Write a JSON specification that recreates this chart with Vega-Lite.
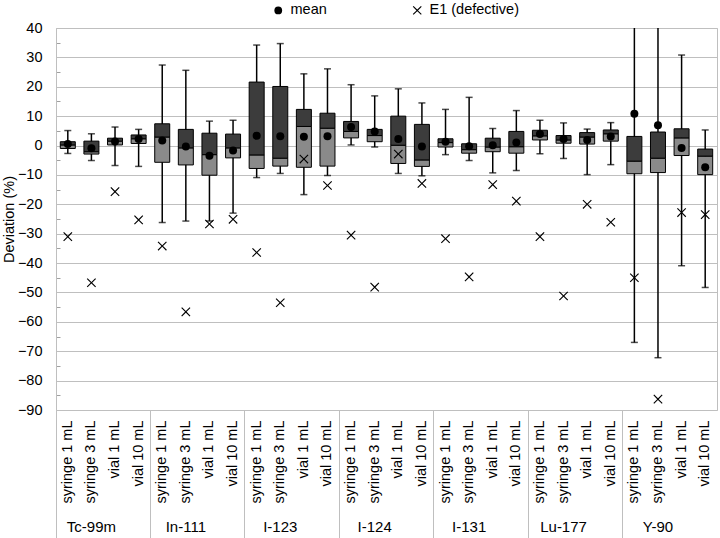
{
  "$schema": "https://vega.github.io/schema/vega-lite/v6.json",
  "width": 661,
  "height": 382,
  "autosize": "none",
  "padding": {"left": 56, "top": 28, "right": 3, "bottom": 128},
  "background": "white",
  "data": {"values": [
    {"key": "Tc-99m|syringe 1 mL", "min": -2.7, "q1": -1.0, "med": 0.2, "q3": 1.3, "max": 5.1, "mean": 0.5, "e1": -31.0},
    {"key": "Tc-99m|syringe 3 mL", "min": -5.1, "q1": -2.9, "med": -2.1, "q3": 1.5, "max": 4.0, "mean": -0.9, "e1": -46.7},
    {"key": "Tc-99m|vial 1 mL", "min": -6.8, "q1": 0.2, "med": 1.5, "q3": 2.5, "max": 6.3, "mean": 1.4, "e1": -15.7},
    {"key": "Tc-99m|vial 10 mL", "min": -7.1, "q1": 0.7, "med": 2.3, "q3": 3.6, "max": 5.5, "mean": 2.2, "e1": -25.3},
    {"key": "In-111|syringe 1 mL", "min": -26.2, "q1": -5.7, "med": 2.9, "q3": 7.4, "max": 27.4, "mean": 1.7, "e1": -34.2},
    {"key": "In-111|syringe 3 mL", "min": -25.7, "q1": -6.6, "med": -0.8, "q3": 5.5, "max": 25.6, "mean": -0.3, "e1": -56.6},
    {"key": "In-111|vial 1 mL", "min": -25.7, "q1": -10.1, "med": -3.1, "q3": 4.2, "max": 8.3, "mean": -3.5, "e1": -26.7},
    {"key": "In-111|vial 10 mL", "min": -23.0, "q1": -4.2, "med": -0.8, "q3": 3.9, "max": 8.6, "mean": -1.7, "e1": -25.1},
    {"key": "I-123|syringe 1 mL", "min": -10.9, "q1": -7.8, "med": -3.2, "q3": 21.6, "max": 34.2, "mean": 3.3, "e1": -36.4},
    {"key": "I-123|syringe 3 mL", "min": -9.5, "q1": -7.0, "med": -4.3, "q3": 20.1, "max": 34.7, "mean": 3.2, "e1": -53.5},
    {"key": "I-123|vial 1 mL", "min": -16.7, "q1": -7.4, "med": 6.5, "q3": 12.3, "max": 24.4, "mean": 3.0, "e1": -4.6},
    {"key": "I-123|vial 10 mL", "min": -10.2, "q1": -7.0, "med": 5.9, "q3": 11.0, "max": 26.1, "mean": 3.2, "e1": -13.6},
    {"key": "I-124|syringe 1 mL", "min": 0.2, "q1": 2.6, "med": 4.8, "q3": 8.2, "max": 20.7, "mean": 6.3, "e1": -30.5},
    {"key": "I-124|syringe 3 mL", "min": -0.5, "q1": 1.3, "med": 3.4, "q3": 5.5, "max": 16.9, "mean": 4.8, "e1": -48.2},
    {"key": "I-124|vial 1 mL", "min": -9.5, "q1": -6.1, "med": 0.1, "q3": 10.0, "max": 19.3, "mean": 2.2, "e1": -2.9},
    {"key": "I-124|vial 10 mL", "min": -10.3, "q1": -7.1, "med": -4.9, "q3": 7.2, "max": 14.5, "mean": -0.3, "e1": -12.9},
    {"key": "I-131|syringe 1 mL", "min": -3.1, "q1": -0.5, "med": 1.0, "q3": 2.3, "max": 12.3, "mean": 1.3, "e1": -31.7},
    {"key": "I-131|syringe 3 mL", "min": -5.1, "q1": -2.6, "med": -1.4, "q3": 0.6, "max": 16.4, "mean": -0.2, "e1": -44.7},
    {"key": "I-131|vial 1 mL", "min": -9.3, "q1": -2.1, "med": -0.5, "q3": 2.5, "max": 5.8, "mean": 0.1, "e1": -13.3},
    {"key": "I-131|vial 10 mL", "min": -8.5, "q1": -2.6, "med": -0.4, "q3": 4.8, "max": 11.9, "mean": 1.0, "e1": -18.9},
    {"key": "Lu-177|syringe 1 mL", "min": -2.8, "q1": 1.9, "med": 3.3, "q3": 5.2, "max": 8.6, "mean": 3.9, "e1": -31.0},
    {"key": "Lu-177|syringe 3 mL", "min": -4.4, "q1": 0.8, "med": 1.9, "q3": 3.4, "max": 7.7, "mean": 2.2, "e1": -51.2},
    {"key": "Lu-177|vial 1 mL", "min": -9.9, "q1": 0.5, "med": 2.9, "q3": 4.4, "max": 5.6, "mean": 1.9, "e1": -20.0},
    {"key": "Lu-177|vial 10 mL", "min": -6.5, "q1": 1.5, "med": 4.0, "q3": 5.3, "max": 7.8, "mean": 3.1, "e1": -26.1},
    {"key": "Y-90|syringe 1 mL", "min": -67.0, "q1": -9.6, "med": -5.3, "q3": 3.1, "max": 60.0, "mean": 10.8, "e1": -45.0},
    {"key": "Y-90|syringe 3 mL", "min": -72.2, "q1": -9.2, "med": -4.3, "q3": 4.6, "max": 60.0, "mean": 6.9, "e1": -86.3},
    {"key": "Y-90|vial 1 mL", "min": -40.9, "q1": -3.4, "med": 2.6, "q3": 5.7, "max": 30.8, "mean": -0.8, "e1": -22.8},
    {"key": "Y-90|vial 10 mL", "min": -48.3, "q1": -9.9, "med": -3.6, "q3": -1.2, "max": 5.3, "mean": -7.4, "e1": -23.5}
  ]},
  "layer": [
    {
      "mark": {"type": "rule", "clip": true, "strokeWidth": 1.5, "color": "#000000"},
      "encoding": {
        "x": {"field": "key", "type": "nominal", "sort": null, "title": null,
          "scale": {"paddingInner": 0, "paddingOuter": 0},
          "axis": {"orient": "bottom", "labelAngle": -90, "labelAlign": "right", "labelBaseline": "middle",
            "labelExpr": "split(datum.label, '|')[1]", "labelPadding": 10, "ticks": false, "domain": false, "grid": false,
            "labelFontSize": 14.5, "labelFont": "Liberation Sans", "labelColor": "#000000", "labelOverlap": false, "labelLimit": 300}},
        "y": {"field": "min", "type": "quantitative", "title": "Deviation (%)",
          "scale": {"domain": [-90, 40], "nice": false, "zero": false},
          "axis": {"values": [-90, -85, -80, -75, -70, -65, -60, -55, -50, -45, -40, -35, -30, -25, -20, -15, -10, -5, 0, 5, 10, 15, 20, 25, 30, 35, 40],
            "tickCount": 40,
            "labelOverlap": false,
            "labelExpr": "datum.value % 10 === 0 ? datum.label : ''",
            "grid": true, "gridColor": "#bfbfbf",
            "gridOpacity": {"condition": {"test": "datum.value % 10 !== 0", "value": 0}, "value": 1},
            "ticks": true, "tickSize": -4, "tickColor": "#a0a0a0",
            "tickOpacity": {"condition": {"test": "datum.value % 10 === 0", "value": 0}, "value": 1},
            "domain": true, "domainColor": "#bfbfbf",
            "labelPadding": 18, "labelFontSize": 14.5, "labelFont": "Liberation Sans", "labelColor": "#000000",
            "titleFontSize": 14.5, "titleFont": "Liberation Sans", "titleFontWeight": "normal", "titleColor": "#000000",
            "titleX": -40, "titleBaseline": "bottom"}},
        "y2": {"field": "max"}
      }
    },
    {
      "mark": {"type": "tick", "clip": true, "thickness": 1.5, "size": 7, "color": "#000000"},
      "encoding": {
        "x": {"field": "key", "type": "nominal", "sort": null, "title": null,
          "scale": {"paddingInner": 0, "paddingOuter": 0},
          "axis": {"orient": "bottom", "values": ["Tc-99m|syringe 1 mL", "In-111|syringe 1 mL", "I-123|syringe 1 mL", "I-124|syringe 1 mL", "I-131|syringe 1 mL", "Lu-177|syringe 1 mL", "Y-90|syringe 1 mL"],
            "bandPosition": 0, "ticks": true, "tickSize": 130, "tickColor": "#bfbfbf", "tickWidth": 1, "labels": false, "domain": false, "grid": false}},
        "y": {"field": "min", "type": "quantitative", "title": "Deviation (%)", "scale": {"domain": [-90, 40], "nice": false, "zero": false}}
      }
    },
    {
      "mark": {"type": "tick", "clip": true, "thickness": 1.5, "size": 7, "color": "#000000"},
      "encoding": {
        "x": {"field": "key", "type": "nominal", "sort": null, "title": null,
          "scale": {"paddingInner": 0, "paddingOuter": 0},
          "axis": {"orient": "bottom", "values": ["Tc-99m|syringe 3 mL", "In-111|syringe 3 mL", "I-123|syringe 3 mL", "I-124|syringe 3 mL", "I-131|syringe 3 mL", "Lu-177|syringe 3 mL", "Y-90|syringe 3 mL"],
            "bandPosition": 1, "ticks": false, "labelExpr": "split(datum.label, '|')[0]", "labelAngle": 0, "labelAlign": "center", "labelBaseline": "top",
            "labelPadding": 109, "domain": false, "grid": false, "labelFontSize": 15, "labelFont": "Liberation Sans", "labelColor": "#000000", "labelOverlap": false}},
        "y": {"field": "max", "type": "quantitative", "title": "Deviation (%)", "scale": {"domain": [-90, 40], "nice": false, "zero": false}}
      }
    },
    {
      "mark": {"type": "bar", "size": 15, "fill": "#8a8a8a", "stroke": "#000000", "strokeWidth": 1},
      "encoding": {
        "x": {"field": "key", "type": "nominal", "sort": null, "title": null, "scale": {"paddingInner": 0, "paddingOuter": 0}, "axis": null},
        "y": {"field": "q1", "type": "quantitative", "title": "Deviation (%)", "scale": {"domain": [-90, 40], "nice": false, "zero": false}},
        "y2": {"field": "med"}
      }
    },
    {
      "mark": {"type": "bar", "size": 15, "fill": "#3c3c3c", "stroke": "#000000", "strokeWidth": 1},
      "encoding": {
        "x": {"field": "key", "type": "nominal", "sort": null, "title": null, "scale": {"paddingInner": 0, "paddingOuter": 0}, "axis": null},
        "y": {"field": "med", "type": "quantitative", "title": "Deviation (%)", "scale": {"domain": [-90, 40], "nice": false, "zero": false}},
        "y2": {"field": "q3"}
      }
    },
    {
      "transform": [{"fold": ["mean", "e1"], "as": ["stat", "val"]}],
      "mark": {"type": "point", "filled": true, "size": 64, "opacity": 1, "strokeWidth": 0},
      "encoding": {
        "x": {"field": "key", "type": "nominal", "sort": null, "title": null, "scale": {"paddingInner": 0, "paddingOuter": 0}, "axis": null},
        "y": {"field": "val", "type": "quantitative", "title": "Deviation (%)", "scale": {"domain": [-90, 40], "nice": false, "zero": false}},
        "color": {"value": "#000000"},
        "shape": {"field": "stat", "type": "nominal",
          "scale": {"domain": ["mean", "e1"], "range": ["circle", "M-1.15,-0.95L-0.95,-1.15L0,-0.2L0.95,-1.15L1.15,-0.95L0.2,0L1.15,0.95L0.95,1.15L0,0.2L-0.95,1.15L-1.15,0.95L-0.2,0Z"]},
          "legend": {"title": null, "orient": "none", "legendX": 215, "legendY": -25, "direction": "horizontal",
            "labelExpr": "datum.label == 'e1' ? 'E1 (defective)' : 'mean'",
            "labelFontSize": 14.5, "labelFont": "Liberation Sans", "labelColor": "#000000", "labelOffset": 5,
            "symbolSize": 60, "symbolFillColor": "#000000", "symbolStrokeWidth": 0, "columnPadding": 83, "padding": 0}}
      }
    }
  ],
  "resolve": {"axis": {"x": "independent"}},
  "config": {
    "view": {"stroke": "#bfbfbf", "strokeWidth": 1},
    "font": "Liberation Sans"
  }
}
